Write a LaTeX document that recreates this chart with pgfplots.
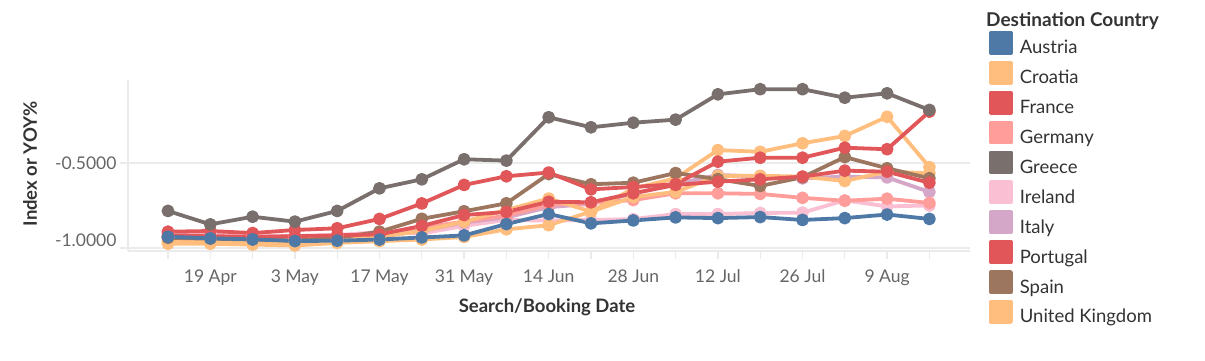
\documentclass[border=0pt]{standalone}
\usepackage{fontspec}
\setmainfont{Lato}
\usepackage{pgfplots}
\pgfplotsset{compat=1.18}
\definecolor{cAustria}{HTML}{4E79A7}
\definecolor{cCroatia}{HTML}{FFBE7D}
\definecolor{cFrance}{HTML}{E15759}
\definecolor{cGermany}{HTML}{FF9D9A}
\definecolor{cGreece}{HTML}{79706E}
\definecolor{cIreland}{HTML}{FABFD2}
\definecolor{cItaly}{HTML}{D4A6C8}
\definecolor{cPortugal}{HTML}{E15759}
\definecolor{cSpain}{HTML}{9D7660}
\definecolor{cUK}{HTML}{FFBE7D}
\definecolor{gridgray}{HTML}{EBEBEB}
\definecolor{tickgray}{HTML}{666666}
\definecolor{titlegray}{HTML}{333333}

\pgfplotstableread{
i Austria Croatia France Germany Greece Ireland Italy Portugal Spain UK
0  -0.934 -0.975 -0.904 -0.935 -0.782 -0.912 -0.940 -0.925 -0.940 -0.965
1  -0.943 -0.975 -0.900 -0.940 -0.861 -0.915 -0.945 -0.930 -0.945 -0.965
2  -0.949 -0.980 -0.912 -0.945 -0.816 -0.925 -0.950 -0.935 -0.950 -0.970
3  -0.959 -0.985 -0.894 -0.945 -0.845 -0.930 -0.955 -0.930 -0.955 -0.970
4  -0.957 -0.970 -0.884 -0.935 -0.782 -0.924 -0.945 -0.925 -0.940 -0.955
5  -0.950 -0.960 -0.829 -0.915 -0.649 -0.906 -0.930 -0.920 -0.904 -0.935
6  -0.938 -0.950 -0.738 -0.880 -0.596 -0.915 -0.900 -0.870 -0.828 -0.900
7  -0.926 -0.935 -0.629 -0.845 -0.478 -0.870 -0.850 -0.806 -0.784 -0.845
8  -0.859 -0.890 -0.578 -0.810 -0.486 -0.835 -0.820 -0.788 -0.737 -0.776
9  -0.800 -0.866 -0.556 -0.747 -0.231 -0.839 -0.760 -0.728 -0.565 -0.709
10 -0.855 -0.786 -0.655 -0.735 -0.290 -0.835 -0.740 -0.731 -0.625 -0.786
11 -0.838 -0.650 -0.641 -0.718 -0.263 -0.830 -0.680 -0.678 -0.616 -0.700
12 -0.820 -0.590 -0.624 -0.678 -0.245 -0.800 -0.625 -0.629 -0.559 -0.670
13 -0.824 -0.424 -0.492 -0.678 -0.096 -0.800 -0.570 -0.610 -0.595 -0.576
14 -0.818 -0.434 -0.469 -0.682 -0.066 -0.794 -0.580 -0.596 -0.635 -0.575
15 -0.835 -0.384 -0.469 -0.705 -0.066 -0.792 -0.590 -0.580 -0.584 -0.580
16 -0.824 -0.341 -0.410 -0.722 -0.116 -0.720 -0.580 -0.545 -0.465 -0.606
17 -0.803 -0.228 -0.419 -0.710 -0.090 -0.755 -0.585 -0.551 -0.531 -0.551
18 -0.829 -0.524 -0.198 -0.735 -0.188 -0.750 -0.670 -0.616 -0.590 -0.560
}\datatable

\begin{document}
\begin{tikzpicture}[x=1pt,y=1pt]
\useasboundingbox (0,0) rectangle (1205,360);
\begin{axis}[
  at={(128pt,109pt)}, anchor=south west,
  scale only axis, width=842pt, height=171pt,
  xmin=-0.9456, xmax=18.96, ymin=-1.0176, ymax=-0.0118,
  axis x line*=bottom, axis y line*=left,
  axis line style={draw=gridgray, line width=1.5pt, -},
  xtick={0,...,18},
  xticklabels={,19 Apr,,3 May,,17 May,,31 May,,14 Jun,,28 Jun,,12 Jul,,26 Jul,,9 Aug,},
  ytick={-0.5}, yticklabels={-0.5000},
  extra y ticks={-1}, extra y tick labels={-1.0000},
  extra y tick style={grid=major, yticklabel style={yshift=8pt}},
  ymajorgrids, grid style={draw=gridgray, line width=1.5pt},
  tick align=outside, major tick length=8pt,
  tick style={draw=gridgray, line width=1.3pt},
  tick label style={font=\fontsize{17.5}{20}\selectfont, text=tickgray},
  xticklabel style={yshift=-7pt},
  every axis y label/.style={at={(axis description cs:-0.1164,0.509)}, rotate=90, anchor=center,
     font=\fontsize{18.5}{21}\selectfont\bfseries, text=titlegray},
  every axis x label/.style={at={(axis description cs:0.4976,-0.327)}, anchor=center,
     font=\fontsize{18.5}{21}\selectfont\bfseries, text=titlegray},
  xlabel={Search/Booking Date},
  ylabel={Index or YOY\%},
  every axis plot/.append style={line width=3.8pt, line join=round, mark=*, mark size=4.5pt, mark options={solid}},
  legend image code/.code={\fill[#1] (0pt,-3pt) rectangle (20pt,17pt);},
  legend style={at={(1.0226,1.287)}, anchor=north west, draw=none, fill=none,
     inner sep=0pt, outer sep=0pt, row sep=3.0pt, column sep=7pt,
     nodes={inner sep=0pt, text height=12pt, text depth=4pt, text=titlegray},
     font=\fontsize{18.5}{21}\selectfont},
  legend cell align=left,
]
\addplot[cIreland, forget plot] table[x=i, y=Ireland] {\datatable};
\addplot[cItaly, forget plot] table[x=i, y=Italy] {\datatable};
\addplot[cGermany, forget plot] table[x=i, y=Germany] {\datatable};
\addplot[cUK, forget plot] table[x=i, y=UK] {\datatable};
\addplot[cCroatia, forget plot] table[x=i, y=Croatia] {\datatable};
\addplot[cSpain, forget plot] table[x=i, y=Spain] {\datatable};
\addplot[cPortugal, forget plot] table[x=i, y=Portugal] {\datatable};
\addplot[cFrance, forget plot] table[x=i, y=France] {\datatable};
\addplot[cAustria, forget plot] table[x=i, y=Austria] {\datatable};
\addplot[cGreece, forget plot] table[x=i, y=Greece] {\datatable};
\addlegendimage{cAustria}\addlegendentry{Austria}
\addlegendimage{cCroatia}\addlegendentry{Croatia}
\addlegendimage{cFrance}\addlegendentry{France}
\addlegendimage{cGermany}\addlegendentry{Germany}
\addlegendimage{cGreece}\addlegendentry{Greece}
\addlegendimage{cIreland}\addlegendentry{Ireland}
\addlegendimage{cItaly}\addlegendentry{Italy}
\addlegendimage{cPortugal}\addlegendentry{Portugal}
\addlegendimage{cSpain}\addlegendentry{Spain}
\addlegendimage{cUK}\addlegendentry{United Kingdom}
\end{axis}
\node[anchor=base west, inner sep=0pt, font=\fontsize{19}{22}\selectfont\bfseries, text=titlegray] at (986,334) {Destination Country};
\end{tikzpicture}
\end{document}
